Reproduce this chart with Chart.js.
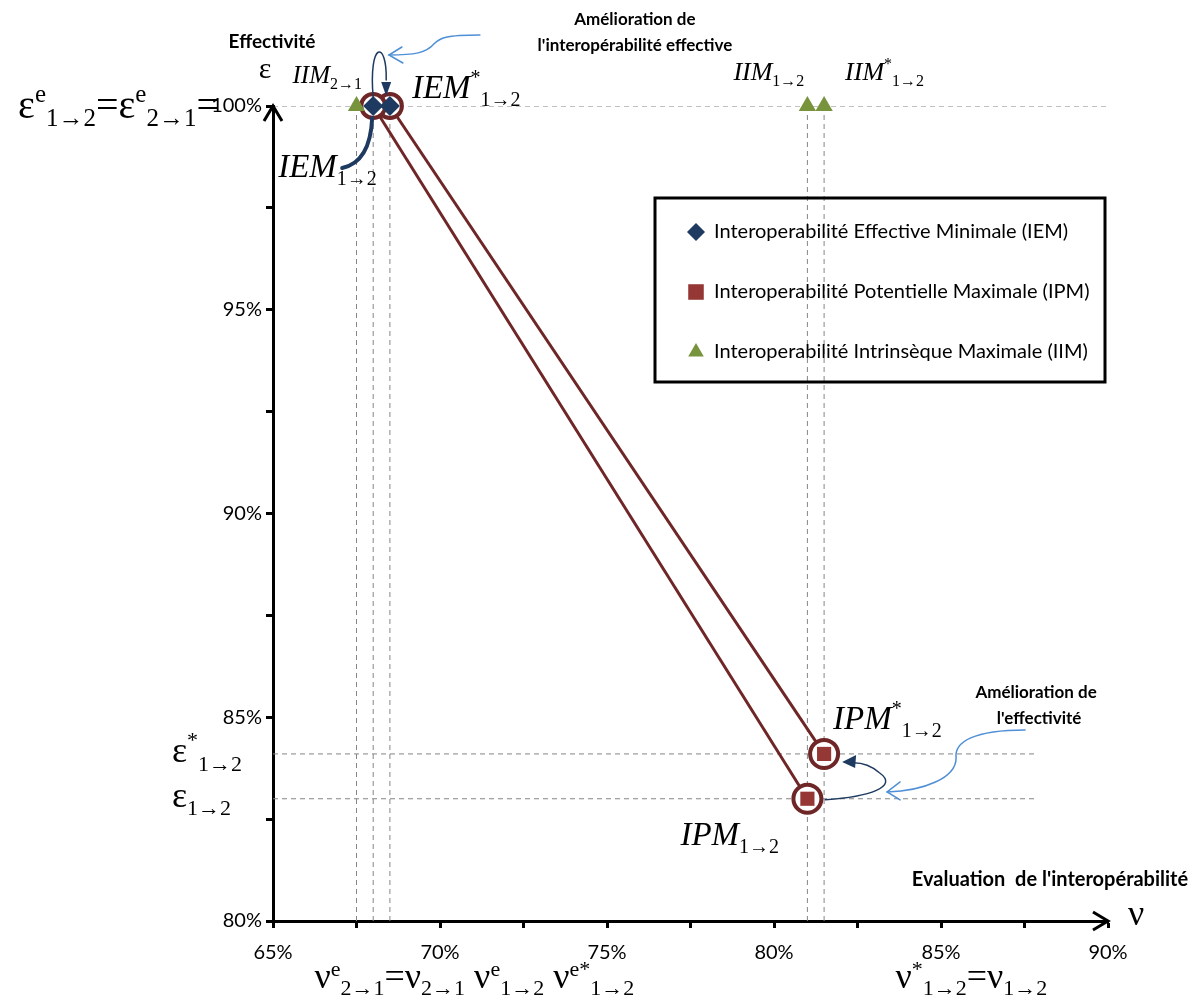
<!DOCTYPE html>
<html lang="fr">
<head>
<meta charset="utf-8"/>
<title>Evaluation de l'interopérabilité</title>
<script src="https://cdn.jsdelivr.net/npm/chart.js@4.4.1/dist/chart.umd.min.js"></script>
<style>
    body { margin: 0; background: #fff; }
    #wrap { width: 1203px; height: 1000px; }
</style>
</head>
<body>
<div id="wrap"><canvas id="chart" width="1203" height="1000"></canvas></div>
<script>
// valeurs (en %)
var iemX = [68.0, 68.5];
var iemY = [100, 100];
var ipmX = [81.0, 81.5];
var ipmY = [83.0, 84.1];
var iimX = [67.5, 81.0, 81.5];
var iimY = [100, 100, 100];

// lignes de repère en pointillés
var guideX = [67.5, 68.0, 68.5, 81.0, 81.5];
var guideY = [100, 84.1, 83.0];
var guideXEnd = [90, 87.8, 87.8];

var legendLabels = [
    'Interoperabilité Effective Minimale (IEM)',
    'Interoperabilité Potentielle Maximale (IPM)',
    'Interoperabilité Intrinsèque Maximale (IIM)'
];

var xMin = 65, xMax = 90, yMin = 80, yMax = 100, tickStep = 2.5;

var NAVY = '#1f3a60', RED = '#953735', GREEN = '#77933c', BROWN = '#6e2626', GUIDE = '#858585', LIGHTBLUE = '#4f8fd6';
var SERIF = '"Liberation Serif", "DejaVu Serif", serif';
var SANS = 'Lato, "Open Sans", sans-serif';

function pts(xs, ys) {
    return xs.map(function (x, i) { return {x: x, y: ys[i]}; });
}

var datasets = [
    {label: legendLabels[0], data: pts(iemX, iemY), pointStyle: 'rectRot', pointRadius: 10,
     backgroundColor: NAVY, borderColor: NAVY, pointBorderWidth: 0, showLine: false, clip: false, order: 0},
    {label: legendLabels[1], data: pts(ipmX, ipmY), pointStyle: 'rect', pointRadius: 10,
     backgroundColor: RED, borderColor: RED, pointBorderWidth: 0, showLine: false, clip: false, order: 0},
    {label: legendLabels[2], data: pts(iimX, iimY), pointStyle: 'triangle', pointRadius: 10,
     backgroundColor: GREEN, borderColor: GREEN, pointBorderWidth: 0, showLine: false, clip: false, order: 0}
];

// liaison IEM -> IPM, entourée de cercles
for (var i = 0; i < iemX.length; i++) {
    datasets.push({
        data: [{x: iemX[i], y: iemY[i]}, {x: ipmX[i], y: ipmY[i]}],
        showLine: true, borderColor: BROWN, borderWidth: 3,
        pointStyle: 'circle', pointRadius: [12, 14], pointBorderWidth: 4,
        pointBackgroundColor: '#fff', pointBorderColor: BROWN, clip: false, order: 1
    });
}
guideX.forEach(function (x) {
    datasets.push({data: [{x: x, y: yMax}, {x: x, y: yMin}], showLine: true, borderColor: GUIDE,
        borderWidth: 1, borderDash: [5, 4], pointRadius: 0, order: 2});
});
guideY.forEach(function (y, i) {
    datasets.push({data: [{x: xMin, y: y}, {x: guideXEnd[i], y: y}], showLine: true, borderColor: GUIDE,
        borderWidth: 1, borderDash: [5, 4], pointRadius: 0, order: 2});
});

// texte façon formule : [texte, 'i' | 'r' | 'sup' | 'sub']
function mathText(ctx, x, y, parts, size, align, rise, drop) {
    rise = rise || 0.42;
    drop = drop || 0.24;
    function font(p) {
        var small = p[1] === 'sup' || p[1] === 'sub';
        return (p[1] === 'i' ? 'italic ' : '') + Math.round(small ? size * 0.62 : size) + 'px ' + SERIF;
    }
    var w = 0;
    parts.forEach(function (p) { ctx.font = font(p); w += ctx.measureText(p[0]).width; });
    var cx = align === 'right' ? x - w : (align === 'center' ? x - w / 2 : x);
    ctx.textAlign = 'left';
    ctx.textBaseline = 'alphabetic';
    parts.forEach(function (p) {
        ctx.font = font(p);
        var dy = p[1] === 'sup' ? -size * rise : (p[1] === 'sub' ? size * drop : 0);
        ctx.fillText(p[0], cx, y + dy);
        cx += ctx.measureText(p[0]).width;
    });
}

function openHead(ctx, tx, ty, ax, ay, bx, by) {
    ctx.beginPath();
    ctx.moveTo(ax, ay); ctx.lineTo(tx, ty); ctx.lineTo(bx, by);
    ctx.stroke();
}

var decorations = {
    id: 'decorations',
    afterDraw: function (chart) {
        var ctx = chart.ctx, xs = chart.scales.x, ys = chart.scales.y;
        var px = function (v) { return xs.getPixelForValue(v); };
        var py = function (v) { return ys.getPixelForValue(v); };
        var left = chart.chartArea.left, bottom = chart.chartArea.bottom;
        var top = py(yMax), right = px(xMax);
        ctx.save();

        // flèches des axes
        ctx.strokeStyle = '#000';
        ctx.lineWidth = 3;
        ctx.lineCap = 'butt';
        ctx.lineJoin = 'miter';
        openHead(ctx, left, top, left - 9, top + 15, left + 9, top + 15);
        openHead(ctx, right, bottom, right - 15, bottom - 9, right - 15, bottom + 9);

        // points d'ancrage
        var pA = {x: px(iemX[0]), y: py(iemY[0])};
        var pB = {x: px(iemX[1]), y: py(iemY[1])};
        var pC = {x: px(ipmX[0]), y: py(ipmY[0])};
        var pD = {x: px(ipmX[1]), y: py(ipmY[1])};
        var t0 = {x: px(iimX[0]), y: py(iimY[0])};
        var t1 = {x: px(iimX[1]), y: py(iimY[1])};
        var t2 = {x: px(iimX[2]), y: py(iimY[2])};

        // flèche épaisse IEM1->2
        ctx.strokeStyle = NAVY;
        ctx.lineWidth = 4;
        ctx.lineCap = 'round';
        ctx.beginPath();
        ctx.moveTo(pA.x - 31, pA.y + 62);
        ctx.quadraticCurveTo(pA.x - 3, pA.y + 56, pA.x - 1, pA.y + 12);
        ctx.stroke();

        // boucle IEM1->2 -> IEM*1->2
        ctx.lineWidth = 1.5;
        ctx.beginPath();
        ctx.moveTo(pA.x, pA.y - 8);
        ctx.bezierCurveTo(pA.x - 5, pA.y - 66, pA.x + 14, pA.y - 66, pA.x + 13, pA.y - 26);
        ctx.stroke();
        ctx.fillStyle = NAVY;
        ctx.beginPath();
        ctx.moveTo(pA.x + 13, pA.y - 10);
        ctx.lineTo(pA.x + 8, pA.y - 24);
        ctx.lineTo(pA.x + 18, pA.y - 24);
        ctx.closePath();
        ctx.fill();

        // boucle IPM1->2 -> IPM*1->2
        ctx.beginPath();
        ctx.moveTo(pC.x + 18, pC.y + 1);
        ctx.bezierCurveTo(pC.x + 62, pC.y - 2, pC.x + 92, pC.y - 12, pC.x + 72, pC.y - 26);
        ctx.bezierCurveTo(pC.x + 64, pC.y - 33, pC.x + 55, pC.y - 36, pC.x + 46, pC.y - 36);
        ctx.stroke();
        ctx.beginPath();
        ctx.moveTo(pD.x + 18, pD.y + 8);
        ctx.lineTo(pD.x + 32, pD.y + 1);
        ctx.lineTo(pD.x + 31, pD.y + 14);
        ctx.closePath();
        ctx.fill();

        // légendes explicatives (traits bleu clair)
        ctx.strokeStyle = LIGHTBLUE;
        ctx.lineWidth = 1.5;
        ctx.beginPath();
        ctx.moveTo(pB.x + 90, pB.y - 71);
        ctx.bezierCurveTo(pB.x + 55, pB.y - 71, pB.x + 50, pB.y - 68, pB.x + 44, pB.y - 62);
        ctx.bezierCurveTo(pB.x + 36, pB.y - 53, pB.x + 25, pB.y - 51, pB.x - 1, pB.y - 51);
        ctx.stroke();
        openHead(ctx, pB.x - 1, pB.y - 51, pB.x + 12, pB.y - 59, pB.x + 13, pB.y - 43);

        ctx.beginPath();
        ctx.moveTo(pD.x + 201, pD.y - 24);
        ctx.bezierCurveTo(pD.x + 150, pD.y - 24, pD.x + 130, pD.y - 12, pD.x + 132, pD.y + 4);
        ctx.bezierCurveTo(pD.x + 132, pD.y + 24, pD.x + 100, pD.y + 37, pD.x + 63, pD.y + 38);
        ctx.stroke();
        openHead(ctx, pD.x + 63, pD.y + 38, pD.x + 76, pD.y + 28, pD.x + 76, pD.y + 46);

        // textes en gras
        ctx.fillStyle = '#000';
        ctx.textAlign = 'center';
        ctx.textBaseline = 'middle';
        ctx.font = 'bold 19px ' + SANS;
        ctx.fillText('Effectivité', left - 1, 42);
        ctx.font = 'bold 17px ' + SANS;
        ctx.fillText('Amélioration de', pB.x + 245, 20);
        ctx.fillText("l'interopérabilité effective", pB.x + 245, 46);
        ctx.fillText('Amélioration de', pD.x + 212, pD.y - 61);
        ctx.fillText("l'effectivité", pD.x + 215, pD.y - 35);
        ctx.font = 'bold 20px ' + SANS;
        ctx.fillText("Evaluation  de l'interopérabilité", right - 58, bottom - 41);

        // étiquettes des points
        ctx.fillStyle = '#000';
        mathText(ctx, t0.x - 64, t0.y - 23, [['IIM', 'i'], ['2→1', 'sub']], 25);
        mathText(ctx, pB.x + 22, pB.y - 8, [['IEM', 'i'], ['*', 'sup'], ['1→2', 'sub']], 33);
        mathText(ctx, pA.x - 95, pA.y + 71, [['IEM', 'i'], ['1→2', 'sub']], 33);
        mathText(ctx, t1.x - 74, t1.y - 26, [['IIM', 'i'], ['1→2', 'sub']], 26);
        mathText(ctx, t2.x + 21, t2.y - 26, [['IIM', 'i'], ['*', 'sup'], ['1→2', 'sub']], 26);
        mathText(ctx, pD.x + 9, pD.y - 25, [['IPM', 'i'], ['*', 'sup'], ['1→2', 'sub']], 33);
        mathText(ctx, pC.x - 127, pC.y + 46, [['IPM', 'i'], ['1→2', 'sub']], 33);

        // étiquettes des axes
        mathText(ctx, left - 8, top - 28, [['ε', 'r']], 30, 'center');
        mathText(ctx, right + 20, bottom + 4, [['ν', 'r']], 36);
        mathText(ctx, left - 54, top + 12, [['ε', 'r'], ['e', 'sup'], ['1→2', 'sub'], ['=', 'r'],
            ['ε', 'r'], ['e', 'sup'], ['2→1', 'sub'], ['=', 'r']], 40, 'right', 0.4, 0.2);
        mathText(ctx, 172, py(guideY[1]) + 8, [['ε', 'r'], ['*', 'sup'], ['1→2', 'sub']], 36);
        mathText(ctx, 172, py(guideY[2]) + 8, [['ε', 'r'], ['1→2', 'sub']], 36);
        mathText(ctx, px(guideX[0]) - 42, bottom + 67, [['ν', 'r'], ['e', 'sup'], ['2→1', 'sub'], ['=', 'r'],
            ['ν', 'r'], ['2→1', 'sub'], [' ν', 'r'], ['e', 'sup'], ['1→2', 'sub'], [' ν', 'r'], ['e*', 'sup'], ['1→2', 'sub']],
            36, 'left', 0.32, 0.2);
        mathText(ctx, px(guideX[3]) + 88, bottom + 67, [['ν', 'r'], ['*', 'sup'], ['1→2', 'sub'], ['=', 'r'],
            ['ν', 'r'], ['1→2', 'sub']], 36, 'left', 0.32, 0.2);

        // légende
        var bx = 655, by = 198, bw = 450, bh = 184;
        ctx.strokeStyle = '#000';
        ctx.lineWidth = 3;
        ctx.lineCap = 'butt';
        ctx.strokeRect(bx, by, bw, bh);
        ctx.font = '20px ' + SANS;
        ctx.textAlign = 'left';
        ctx.textBaseline = 'middle';
        chart.data.datasets.forEach(function (ds) {
            var k = legendLabels.indexOf(ds.label);
            if (k < 0) return;
            var ly = by + 34 + k * 60;
            ctx.fillStyle = ds.backgroundColor;
            Chart.helpers.drawPoint(ctx, {pointStyle: ds.pointStyle, radius: ds.pointStyle === 'rect' ? 11 : 9,
                rotation: 0, borderWidth: 0}, bx + 41, ly);
            ctx.fillStyle = '#000';
            ctx.fillText(ds.label, bx + 59, ly);
        });
        ctx.restore();
    }
};

function pctTick(v) {
    return Math.abs(v % 5) < 1e-9 ? v + '%' : '';
}

new Chart(document.getElementById('chart'), {
    type: 'scatter',
    data: {datasets: datasets},
    options: {
        responsive: false,
        animation: false,
        layout: {padding: {top: 106, right: 95, left: 0, bottom: 0}},
        plugins: {legend: {display: false}, tooltip: {enabled: false}},
        scales: {
            x: {
                type: 'linear', min: xMin, max: xMax,
                ticks: {stepSize: tickStep, callback: pctTick, color: '#000', padding: 13,
                        font: {family: SANS, size: 20}, maxRotation: 0, autoSkip: false},
                grid: {drawOnChartArea: false, drawTicks: true, tickLength: 7, tickWidth: 3, tickColor: '#000'},
                border: {color: '#000', width: 3},
                afterFit: function (s) { s.height = 79; }
            },
            y: {
                min: yMin, max: yMax,
                ticks: {stepSize: tickStep, callback: pctTick, color: '#000', padding: 4,
                        font: {family: SANS, size: 20}, autoSkip: false},
                grid: {drawOnChartArea: false, drawTicks: true, tickLength: 7, tickWidth: 3, tickColor: '#000'},
                border: {color: '#000', width: 3},
                afterFit: function (s) { s.width = 273; }
            }
        }
    },
    plugins: [decorations]
});
</script>
</body>
</html>
